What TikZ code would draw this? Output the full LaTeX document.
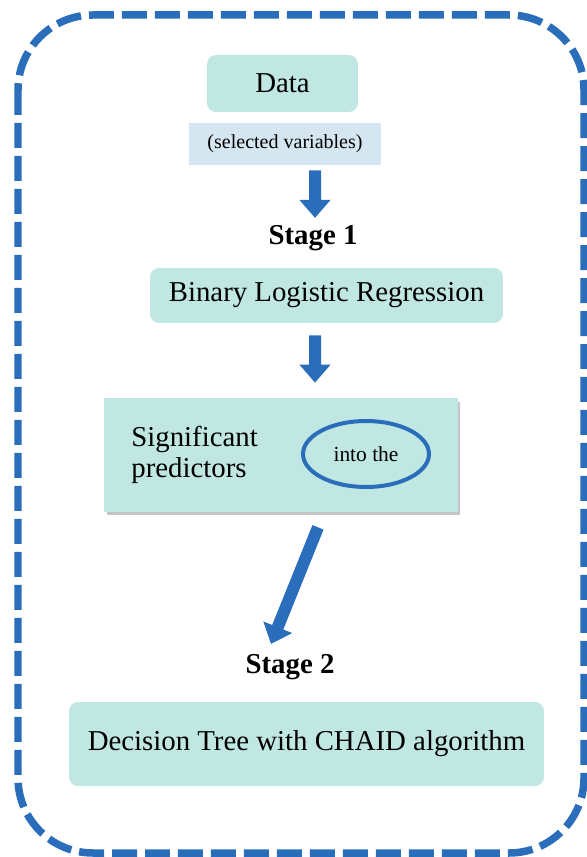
\documentclass[tikz,border=0pt]{standalone}
\usepackage{fontspec}
\setmainfont{Liberation Serif}
\usepackage{xcolor}
\usetikzlibrary{arrows.meta,positioning,calc,shadows,shapes.geometric}
\definecolor{azulBorda}{RGB}{42,110,187}
\definecolor{verdeAgua}{RGB}{192,231,226}
\definecolor{azulClaro}{RGB}{213,230,241}
\tikzset{
  caixa/.style={rectangle, fill=verdeAgua, rounded corners=0.18cm,
                align=center, font=\fontsize{16.4}{19}\selectfont, inner sep=0pt},
  rotulo/.style={rectangle, fill=azulClaro, align=center,
                 font=\fontsize{11.4}{13}\selectfont, inner sep=0pt},
  etapa/.style={font=\fontsize{16.4}{19}\selectfont\bfseries, inner sep=0pt},
  setabloco/.style={-{Triangle[width=0.6cm, length=0.36cm]}, line width=0.24cm, azulBorda},
  moldura/.style={azulBorda, line width=0.15cm, rounded corners=1.5cm,
                  dash pattern=on 0.5cm off 0.16cm},
}

\begin{document}
\begin{tikzpicture}[x=0.02cm, y=-0.02cm]
  \useasboundingbox (0,0) rectangle (587,857);
  \draw[moldura] (18,15) rectangle (584,853);

  \node[caixa, minimum width=3.02cm, minimum height=1.14cm] (dados) at (282.5,83.5) {Data};
  \node[rotulo, minimum width=3.84cm, minimum height=0.84cm] (selec) at (285,144) {(selected variables)};
  \node[etapa] (etapa1) at (313,238) {Stage 1};
  \node[caixa, minimum width=7.06cm, minimum height=1.1cm] (regr) at (326.5,295.5) {Binary Logistic Regression};
  \node[rectangle, fill=verdeAgua, minimum width=7.08cm, minimum height=2.28cm,
        drop shadow={shadow xshift=0.05cm, shadow yshift=-0.07cm, fill=black!45}] (signif) at (281,455) {};
  \node[font=\fontsize{16.4}{18}\selectfont, align=left, anchor=west, inner sep=0pt] (predit) at (131,455) {Significant\\predictors};
  \node[ellipse, draw=azulBorda, line width=0.08cm, minimum width=2.52cm, minimum height=1.32cm,
        font=\fontsize{12.2}{14}\selectfont, inner sep=0pt] (elipse) at (366,454) {into the};
  \node[etapa] (etapa2) at (290,667) {Stage 2};
  \node[caixa, minimum width=9.5cm, minimum height=1.68cm] (arvore) at (306.5,744) {Decision Tree with CHAID algorithm};

  % setas entre as etapas
  \coordinate (s1a) at ([xshift=0.6cm, yshift=-0.1cm]selec.south);
  \coordinate (s1b) at ([xshift=0.04cm, yshift=0.14cm]etapa1.north);
  \coordinate (s2a) at ([xshift=-0.23cm, yshift=-0.24cm]regr.south);
  \coordinate (s2b) at ([xshift=0.68cm, yshift=0.3cm]signif.north);
  \coordinate (s3a) at ([xshift=0.74cm, yshift=-0.3cm]signif.south);
  \coordinate (s3b) at ([xshift=-0.38cm, yshift=0.2cm]etapa2.north);
  \draw[setabloco] (s1a) -- (s1b);
  \draw[setabloco] (s2a) -- (s2b);
  \draw[setabloco] (s3a) -- (s3b);
\end{tikzpicture}
\end{document}
